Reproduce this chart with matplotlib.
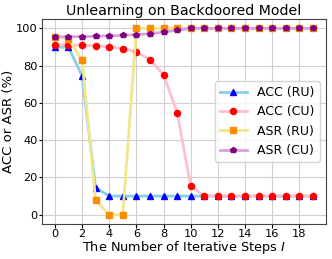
import matplotlib
matplotlib.use("Agg")
import matplotlib.pyplot as plt

steps = list(range(20))
acc_ru = [90, 90, 74.5, 14.5, 10, 10, 10, 10, 10, 10, 10, 10, 10, 10, 10, 10, 10, 10, 10, 10]
acc_cu = [91.2, 91.1, 91, 90.7, 90.2, 89.2, 87.5, 83.3, 75.2, 54.8, 15.4, 10, 10, 10, 10, 10, 10, 10, 10, 10]
asr_ru = [95.5, 94.5, 82.9, 7.7, 0, 0, 100, 100, 100, 100, 100, 100, 100, 100, 100, 100, 100, 100, 100, 100]
asr_cu = [95.6, 95.6, 95.6, 95.8, 96, 96.3, 96.7, 97.2, 98, 99.1, 100, 100, 100, 100, 100, 100, 100, 100, 100, 100]

fig = plt.figure(figsize=(3.32, 2.59), dpi=100)
ax = fig.add_axes([0.1265, 0.135, 0.855, 0.791])

ms = 4.4
ax.plot(steps, acc_ru, color="#87CEEB", marker="^", markerfacecolor="blue",
        markeredgecolor="blue", markersize=ms, linewidth=2, label="ACC (RU)")
ax.plot(steps, acc_cu, color="pink", marker="o", markerfacecolor="red",
        markeredgecolor="red", markersize=ms, linewidth=2, label="ACC (CU)")
ax.plot(steps, asr_ru, color="khaki", marker="s", markerfacecolor="darkorange",
        markeredgecolor="darkorange", markersize=ms, linewidth=2, label="ASR (RU)")
ax.plot(steps, asr_cu, color="plum", marker="p", markerfacecolor="purple",
        markeredgecolor="purple", markersize=ms, linewidth=2, label="ASR (CU)")

ax.set_xticks(range(0, 20, 2))
ax.set_yticks([0, 20, 40, 60, 80, 100])
ax.tick_params(labelsize=8.2, length=3)
ax.tick_params(axis="x", pad=0.5)
ax.tick_params(axis="y", pad=0.5, length=2.5)
ax.grid(True, color="#d0d0d0", linewidth=0.8)
for s in ax.spines.values():
    s.set_color("#444444")
ax.set_title("Unlearning on Backdoored Model", fontsize=10.2, pad=3)
ax.set_xlabel("The Number of Iterative Steps $I$", fontsize=9.3, labelpad=0)
ax.set_ylabel("ACC or ASR (%)", fontsize=9.5, labelpad=1)
ax.legend(loc="center right", fontsize=9, handlelength=2.2)

fig.savefig("out.png", dpi=100)
